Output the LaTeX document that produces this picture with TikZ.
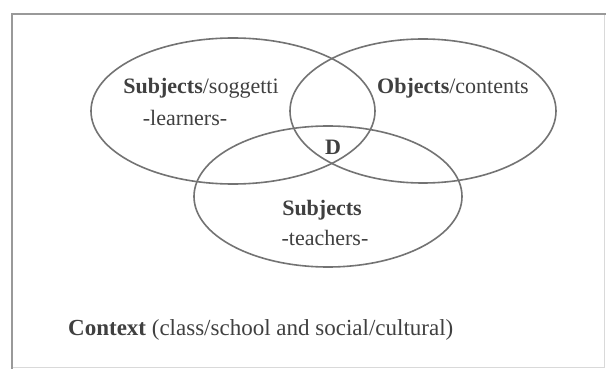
\documentclass[tikz,border=0pt]{standalone}
\usepackage{fontspec}
\setmainfont{Liberation Serif}
\begin{document}
\begin{tikzpicture}[x=1pt,y=-1pt,
  ring/.style={draw=black!55, line width=1.6pt},
  lbl/.style={font=\fontsize{22}{24}\selectfont, text=black!75, inner sep=0pt}]
\useasboundingbox (0,0) rectangle (606,369);
\fill[white] (0,0) rectangle (606,369);
% frame
\draw[black!15, line width=1pt] (604,14) -- (604,367) -- (12,367);
\draw[black!40, line width=2.5pt] (12,369) -- (12,14) -- (606,14);
% sets
\draw[ring] (233,111) ellipse [x radius=142, y radius=73];
\draw[ring] (423,111) ellipse [x radius=133, y radius=72];
\draw[ring] (328,196.5) ellipse [x radius=134, y radius=70.5];
% labels
\node[lbl] (learn1) at (201,88) {\textbf{Subjects}/soggetti};
\node[lbl] (learn2) at (185,118) {-learners-};
\node[lbl] (obj) at (453,88) {\textbf{Objects}/contents};
\node[lbl] (d) at (333,147) {\textbf{D}};
\node[lbl] (teach1) at (322,210) {\textbf{Subjects}};
\node[lbl] (teach2) at (325,238) {-teachers-};
\node[lbl, font=\fontsize{23}{25}\selectfont, anchor=west] (ctx) at (68,330) {\textbf{Context} (class/school and social/cultural)};
\end{tikzpicture}
\end{document}
